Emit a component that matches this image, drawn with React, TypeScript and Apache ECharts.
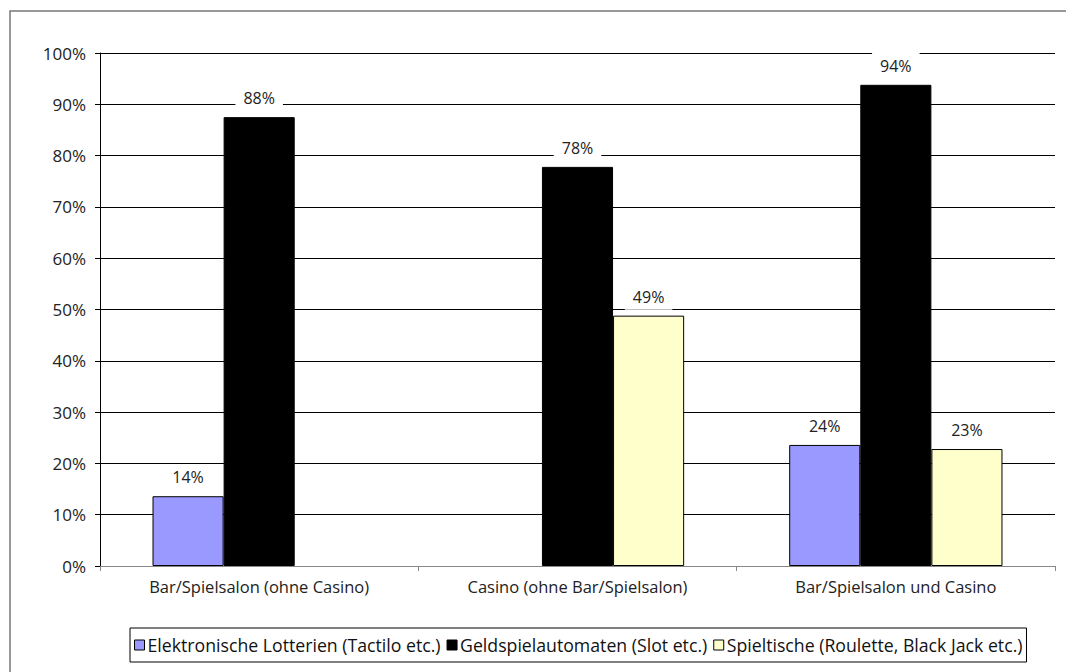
import React, { useEffect, useRef } from "react";
import * as echarts from "echarts";

const categories = [
  "Bar/Spielsalon (ohne Casino)",
  "Casino (ohne Bar/Spielsalon)",
  "Bar/Spielsalon und Casino",
];
const seriesNames = [
  "Elektronische Lotterien (Tactilo etc.)",
  "Geldspielautomaten (Slot etc.)",
  "Spieltische (Roulette, Black Jack etc.)",
];
const lotterien: (number | null)[] = [13.6, null, 23.6];
const automaten: (number | null)[] = [87.5, 77.8, 93.8];
const spieltische: (number | null)[] = [null, 48.8, 22.8];
const colors = ["#9999FF", "#000000", "#FFFFCC"];

const FONT = "'Open Sans', sans-serif";

export default function App() {
  const ref = useRef<HTMLDivElement>(null);
  useEffect(() => {
    document.body.style.margin = "0";
    const chart = echarts.init(ref.current!, null, { renderer: "svg" });
    const mk = (name: string, data: (number | null)[], color: string) => ({
      name,
      type: "bar",
      data,
      barGap: "0%",
      barCategoryGap: "33%",
      itemStyle: { color, borderColor: "#000", borderWidth: 1 },
      label: {
        show: true,
        position: "top",
        distance: 6,
        formatter: (p: any) => Math.round(p.value) + "%",
        color: "#222",
        fontFamily: FONT,
        fontSize: 16,
        backgroundColor: "#fff",
        padding: [5, 8, 5, 8],
      },
    });
    chart.setOption({
      animation: false,
      grid: { left: 100, right: 11, top: 53, bottom: 106, containLabel: false },
      graphic: [
        {
          type: "rect",
          shape: { x: 10, y: 11, width: 1070, height: 680 },
          style: { fill: "none", stroke: "#777", lineWidth: 1.5 },
          silent: true,
        },
      ],
      legend: {
        bottom: 10,
        left: 130,
        itemWidth: 10,
        itemHeight: 10,
        itemGap: 6,
        borderColor: "#000",
        borderWidth: 1,
        padding: [8, 4, 8, 4],
        borderRadius: 0,
        icon: "rect",
        textStyle: { fontFamily: FONT, fontSize: 17.7, color: "#111", padding: [0, 0, 0, -2] },
        itemStyle: { borderColor: "#000", borderWidth: 1 },
        data: seriesNames,
      },
      xAxis: {
        type: "category",
        data: categories,
        axisLine: { lineStyle: { color: "#888", width: 1 } },
        axisTick: { show: true, length: 5, lineStyle: { color: "#888" } },
        axisLabel: { color: "#222", fontFamily: FONT, fontSize: 16.5, margin: 12 },
      },
      yAxis: {
        type: "value",
        min: 0,
        max: 100,
        interval: 10,
        axisLine: { show: true, lineStyle: { color: "#000" } },
        axisTick: { show: true, length: 5, lineStyle: { color: "#000" } },
        axisLabel: { color: "#222", fontFamily: FONT, fontSize: 17, margin: 14, formatter: "{value}%" },
        splitLine: { lineStyle: { color: "#000", width: 1 } },
      },
      series: [
        mk(seriesNames[0], lotterien, colors[0]),
        mk(seriesNames[1], automaten, colors[1]),
        mk(seriesNames[2], spieltische, colors[2]),
      ],
    });
    return () => chart.dispose();
  }, []);
  return <div ref={ref} style={{ width: 1066, height: 672 }} />;
}
